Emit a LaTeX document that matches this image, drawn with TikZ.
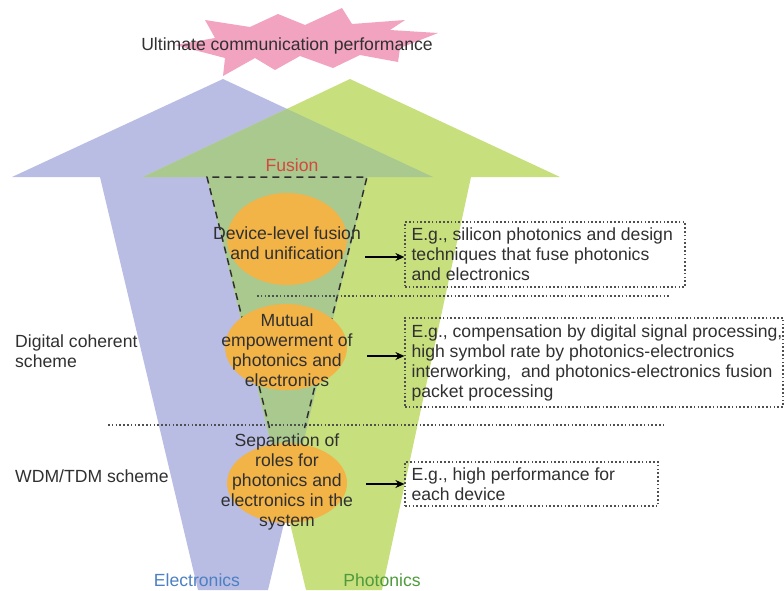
\documentclass[tikz,border=0pt]{standalone}
\usepackage{fontspec}
\setmainfont{Liberation Sans}
\usetikzlibrary{shapes.geometric,arrows.meta}
\definecolor{elec}{HTML}{B9BDE4}
\definecolor{phot}{HTML}{C8DF7E}
\definecolor{both}{HTML}{A9C98E}
\definecolor{burst}{HTML}{F1A3C0}
\definecolor{core}{HTML}{F2B347}
\definecolor{ink}{HTML}{303030}
\definecolor{fusered}{HTML}{D4483E}
\definecolor{elecblue}{HTML}{4C80C2}
\definecolor{photgreen}{HTML}{4E9A3C}
\tikzset{
  txt/.style={inner sep=0pt, text=ink, font=\fontsize{17.6}{19.8}\selectfont},
  blob/.style={ellipse, fill=core, draw=none, inner sep=0pt},
  notebox/.style={draw=ink!85, line width=1.2pt, dash pattern=on 1.6pt off 2.2pt,
    inner sep=0pt, anchor=center},
  notetext/.style={txt, align=left, anchor=west, font=\fontsize{17.6}{20}\selectfont},
  divider/.style={draw=ink!85, line width=1.2pt, dash pattern=on 1.6pt off 2.2pt},
  pointer/.style={draw=black, line width=1.6pt, -{Stealth[length=9pt,width=8pt]}},
  rim/.style={draw=ink, line width=1.5pt, dash pattern=on 7pt off 5pt}
}
\begin{document}
\begin{tikzpicture}[x=1pt,y=-1pt]
\useasboundingbox (0,0) rectangle (784,590);

% the two tapered arrows
\def\elecpath{(223,79) -- (433,177) -- (367,177) -- (268,590) -- (198,590) -- (100,177) -- (12,177) -- cycle}
\def\photpath{(350,79) -- (560,177) -- (471,177) -- (382,590) -- (306,590) -- (207,177) -- (143,177) -- cycle}
\fill[elec] \elecpath;
\fill[phot] \photpath;
\begin{scope}
  \clip \elecpath;
  \fill[both] \photpath;
\end{scope}

% outline of the fusion region
\draw[rim] (269.5,428) -- (207,177) -- (367,177) -- (304.5,428);

% burst at the top
\fill[burst] (342,8) -- (352,24) -- (405,20) -- (390,30) -- (438,33) -- (400,48)
  -- (398,62) -- (360,55) -- (333,68) -- (300,56) -- (275,70) -- (255,58)
  -- (223,76) -- (225,58) -- (175,45) -- (215,38) -- (205,20) -- (250,27)
  -- (278,14) -- (305,25) -- cycle;
\node[txt] (goal) at (287,46) {Ultimate communication performance};

% level separators
\draw[divider] (257,296) -- (670,296);
\draw[divider] (108,425) -- (663,425);

% cores
\node[blob, minimum width=120pt, minimum height=92pt] (e1) at (287,239) {};
\node[blob, minimum width=122pt, minimum height=86pt] (e2) at (286,347) {};
\node[blob, minimum width=120pt, minimum height=80pt] (e3) at (287,483) {};

\node[txt, align=center] (t1) at (287,243) {Device-level fusion\\and unification};
\node[txt, align=center] (t2) at (287,350) {Mutual\\empowerment of\\photonics and\\electronics};
\node[txt, align=center] (t3) at (287,482) {Separation of\\roles for\\photonics and\\electronics in the\\system};

% labels
\node[txt, text=fusered] (fusion) at (292,165) {Fusion};
\node[txt, text=elecblue] (elabel) at (197,580) {Electronics};
\node[txt, text=photgreen] (plabel) at (382,580) {Photonics};
\node[txt, align=left, anchor=west] (dcs) at (15,351) {Digital coherent\\scheme};
\node[txt, anchor=west] (wdm) at (15,476) {WDM/TDM scheme};

% example boxes and their texts
\node[notebox, minimum width=280pt, minimum height=65pt] (b1) at (545,254.5) {};
\node[notebox, minimum width=378pt, minimum height=89pt] (b2) at (594,362.5) {};
\node[notebox, minimum width=253pt, minimum height=44pt] (b3) at (531.5,484) {};
\node[notetext] (n1) at ([xshift=7pt]b1.west)
  {E.g., silicon photonics and design\\techniques that fuse photonics\\and electronics};
\node[notetext] (n2) at ([xshift=7pt]b2.west)
  {E.g., compensation by digital signal processing,\\high symbol rate by photonics-electronics\\interworking,\ \ and photonics-electronics fusion\\packet processing};
\node[notetext] (n3) at ([xshift=7pt]b3.west)
  {E.g., high performance for\\each device};

\coordinate (a1) at (365,257);
\coordinate (a2) at (367,356);
\coordinate (a3) at (366,484);
\draw[pointer] (a1) -- (a1 -| b1.west);
\draw[pointer] (a2) -- (a2 -| b2.west);
\draw[pointer] (a3) -- (a3 -| b3.west);
\end{tikzpicture}
\end{document}
